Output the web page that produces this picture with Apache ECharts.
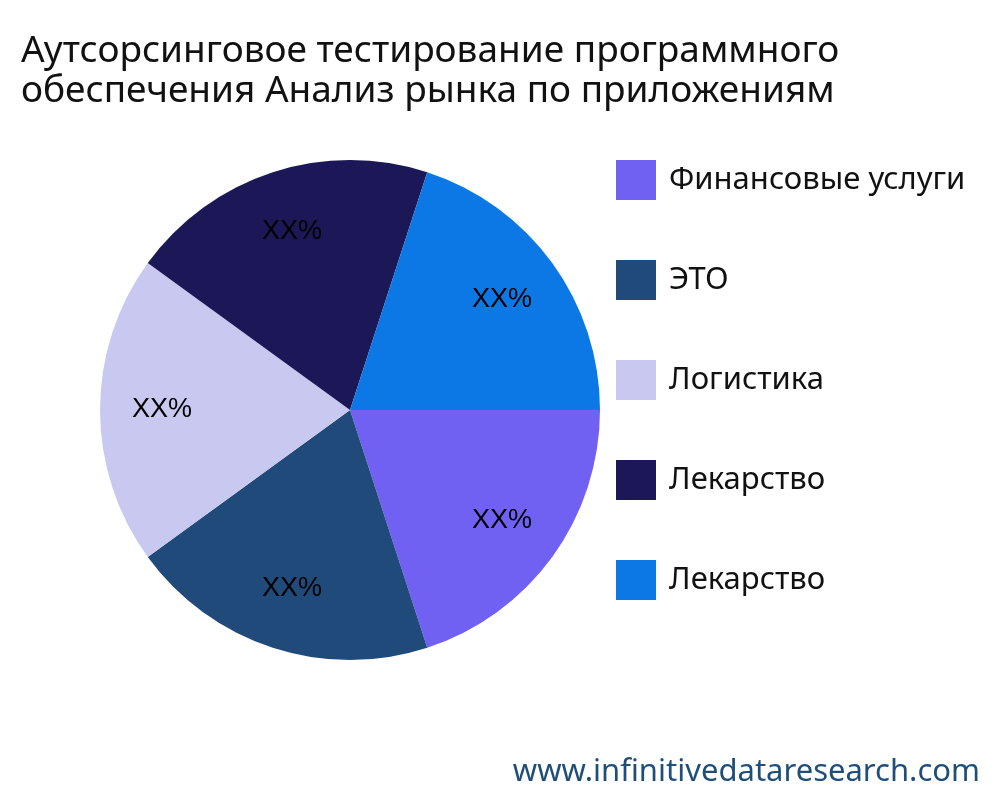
<!DOCTYPE html>
<html><head><meta charset="utf-8">
<script src="https://cdn.jsdelivr.net/npm/echarts@6/dist/echarts.min.js"></script>
<style>html,body{margin:0;padding:0;background:#fff}#c{width:1000px;height:800px}</style>
</head><body><div id="c"></div>
<script>
const categories = ["Финансовые услуги", "ЭТО", "Логистика", "Лекарство", "Лекарство "];
const values = [20, 20, 20, 20, 20];
const labels = ["XX%", "XX%", "XX%", "XX%", "XX%"];
const colors = ["#7161f3", "#1f4a7a", "#c8c8f0", "#1c1756", "#0b78e6"];
const chart = echarts.init(document.getElementById('c'));
chart.setOption({
  animation: false,
  title: {
    text: "Аутсорсинговое тестирование программного\nобеспечения Анализ рынка по приложениям",
    left: 16, top: 26,
    textStyle: {fontFamily: "Noto Sans", fontSize: 37, fontWeight: "normal", color: "#111", lineHeight: 40}
  },
  legend: {
    data: categories,
    orient: "vertical", left: 611, top: 155, itemWidth: 40, itemHeight: 40, itemGap: 60,
    icon: "rect",
    textStyle: {fontFamily: "Noto Sans", fontSize: 31, color: "#111", padding: [0,0,0,8]},
    formatter: n => n.trim()
  },
  graphic: [{type: "text", right: 20, bottom: 12,
    style: {text: "www.infinitivedataresearch.com", font: "31px 'Noto Sans'", fill: "#1f4e79"}}],
  series: [{
    type: "pie", center: [350, 410], radius: 250, startAngle: 0, clockwise: true,
    label: {show: false}, labelLine: {show: false}, silent: true,
    data: categories.map((n, i) => ({name: n, value: values[i], itemStyle: {color: colors[i]}}))
  }, {
    type: "pie", center: [350, 410], radius: [120, 250], startAngle: 0, clockwise: true,
    silent: true, legendHoverLink: false,
    itemStyle: {color: "rgba(0,0,0,0)"},
    label: {position: "inside", formatter: p => labels[p.dataIndex], color: "#000", fontSize: 27, fontFamily: "Liberation Sans"},
    labelLine: {show: false},
    data: categories.map((n, i) => ({name: n, value: values[i]}))
  }]
});
</script></body></html>
